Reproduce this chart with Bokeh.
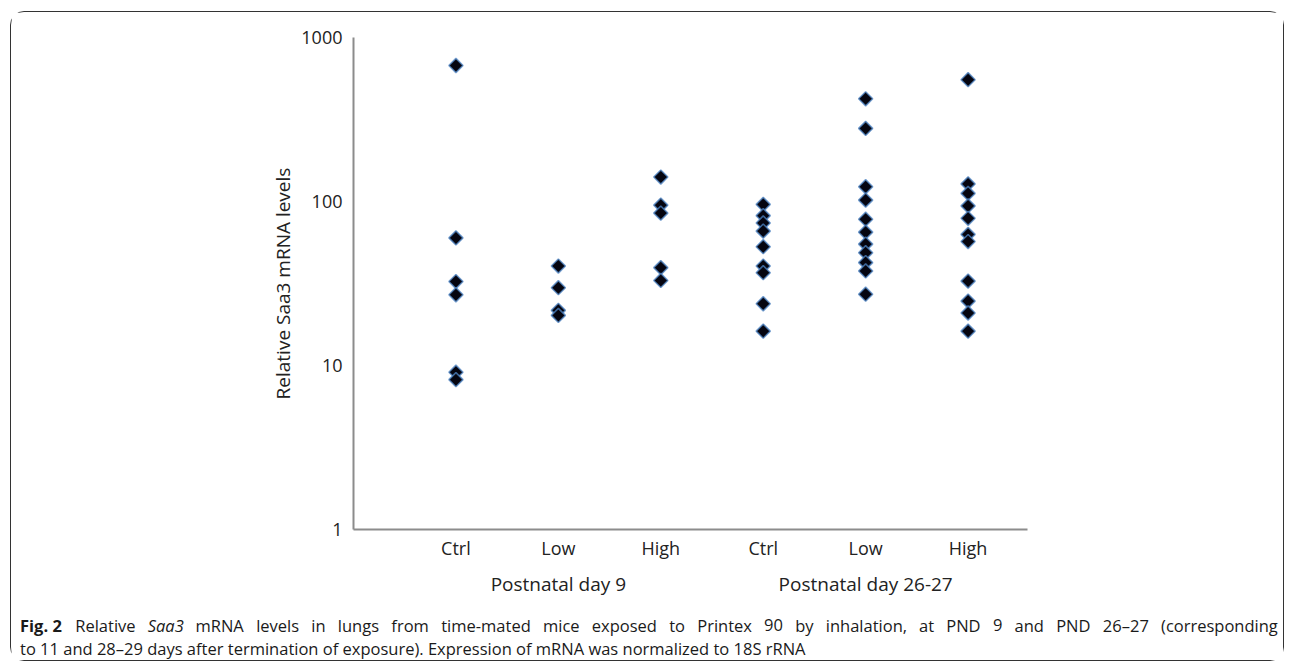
import math
from bokeh.plotting import figure
from bokeh.layouts import column
from bokeh.models import (Range1d, FixedTicker, LinearAxis, Label, ColumnDataSource)
from bokeh.embed import file_html
from bokeh.resources import INLINE

# ---------------- data ----------------
groups = ["Postnatal day 9", "Postnatal day 26-27"]
doses = ["Ctrl", "Low", "High"]
y_ticks = [1, 10, 100, 1000]

pnd9_ctrl = [675, 60, 32.5, 27, 9.1, 8.2]
pnd9_low = [40.4, 29.8, 21.7, 20.2]
pnd9_high = [141, 95, 85, 39.5, 33]
pnd26_ctrl = [96, 82, 74, 66, 53, 40.4, 36.8, 23.8, 16.2]
pnd26_low = [423, 279, 123, 102, 78, 65, 55, 48.7, 42.4, 37.7, 27.2]
pnd26_high = [553, 128, 112, 94, 79, 63, 57, 32.7, 24.7, 20.9, 16.2]

y_label = "Relative Saa3 mRNA levels"
caption_bold = "Fig. 2"
caption_1a = "Relative"
caption_italic = "Saa3"
caption_1b = ("mRNA levels in lungs from time-mated mice exposed to Printex 90 by inhalation, "
              "at PND 9 and PND 26\u201327 (corresponding")
caption_2 = ("to 11 and 28\u201329 days after termination of exposure). "
             "Expression of mRNA was normalized to 18S rRNA")

columns = [pnd9_ctrl, pnd9_low, pnd9_high, pnd26_ctrl, pnd26_low, pnd26_high]
tick_names = doses + doses

xs, ys = [], []
for i, vals in enumerate(columns):
    xs += [i + 1] * len(vals)
    ys += vals
src = ColumnDataSource(dict(x=xs, y=ys))

FONT = "Open Sans"
W = 1272
H_MAIN = 588
H_CAP = 60

p = figure(width=W, height=H_MAIN, y_axis_type="log",
           x_range=Range1d(0, 6.58), y_range=Range1d(1, 1000),
           output_backend="svg", toolbar_location=None,
           min_border_left=342, min_border_right=256,
           min_border_top=25, min_border_bottom=71)
p.frame_align = False
p.grid.visible = False
p.outline_line_color = None
p.background_fill_color = "white"
p.border_fill_color = "white"

p.scatter("x", "y", source=src, marker="square", size=10, angle=math.pi / 4,
          fill_color="#050510", line_color="#4f86c6", line_width=1.6, line_alpha=0.75)

# x axis (categories)
xa = p.xaxis[0]
xa.ticker = FixedTicker(ticks=list(range(1, len(tick_names) + 1)))
xa.major_label_overrides = {i + 1: t for i, t in enumerate(tick_names)}
xa.axis_line_color = "#8c8c8c"
xa.axis_line_width = 2
xa.major_tick_line_color = None
xa.minor_tick_line_color = None
xa.major_tick_out = 0
xa.major_tick_in = 0
xa.minor_tick_out = 0
xa.major_label_standoff = 6
xa.major_label_text_font = FONT
xa.major_label_text_font_size = "18px"
xa.major_label_text_color = "#222222"

# group axis
ga = LinearAxis(ticker=FixedTicker(ticks=[2, 5]),
                major_label_overrides={2: groups[0], 5: groups[1]})
ga.axis_line_color = None
ga.major_tick_line_color = None
ga.minor_tick_line_color = None
ga.major_tick_out = 0
ga.major_tick_in = 0
ga.minor_tick_out = 0
ga.major_label_standoff = 8
ga.major_label_text_font = FONT
ga.major_label_text_font_size = "19px"
ga.major_label_text_color = "#222222"
p.add_layout(ga, "below")

# y axis
ya = p.yaxis[0]
ya.ticker = FixedTicker(ticks=y_ticks)
ya.major_label_overrides = {t: str(t) for t in y_ticks}
ya.axis_line_color = "#8c8c8c"
ya.axis_line_width = 2
ya.major_tick_line_color = None
ya.minor_tick_line_color = None
ya.major_tick_out = 0
ya.major_tick_in = 0
ya.minor_tick_out = 0
ya.major_label_standoff = 11
ya.major_label_text_font = FONT
ya.major_label_text_font_size = "18px"
ya.major_label_text_color = "#222222"
ya.axis_label = y_label
ya.axis_label_text_font = FONT
ya.axis_label_text_font_size = "19px"
ya.axis_label_text_font_style = "normal"
ya.axis_label_text_color = "#222222"
ya.axis_label_standoff = 2

# caption panel
c = figure(width=W, height=H_CAP, x_range=Range1d(0, W), y_range=Range1d(H_CAP, 0),
           output_backend="svg", toolbar_location=None,
           min_border_left=0, min_border_right=0, min_border_top=0, min_border_bottom=0)
c.frame_align = False
c.axis.visible = False
c.grid.visible = False
c.outline_line_color = None
c.background_fill_color = "white"
c.border_fill_color = "white"

OX, OY = 11.5, 12.5 + H_MAIN   # page position of the caption panel's top-left
CAP_SIZE = 16.5

# approximate Open Sans advance widths (units per 2048 em), used to justify line 1
ADV = {' ': 532, 'F': 1057, 'i': 518, 'g': 1122, '.': 545, '2': 1171, 'R': 1260,
       'e': 1149, 'l': 518, 'a': 1139, 't': 723, 'v': 1026, 'S': 1104, '3': 1171,
       'm': 1905, 'N': 1556, 'A': 1296, 's': 977, 'n': 1257, 'u': 1257, 'f': 694,
       'r': 836, 'o': 1237, '-': 659, 'd': 1255, 'c': 975, 'x': 1073, 'p': 1255,
       'P': 1235, '9': 1171, '0': 1171, 'b': 1255, 'y': 1028, 'h': 1257, ',': 500,
       'D': 1493, '6': 1171, '7': 1171, '\u2013': 1024, '(': 606, 'E': 1139}
STYLE_K = {"normal": 1.0, "bold": 1.08, "italic": 0.97}

def text_w(t, style):
    return sum(ADV.get(ch, 1150) for ch in t) / 2048 * CAP_SIZE * STYLE_K[style]

def cap(text, px, py, style="normal"):
    c.add_layout(Label(x=px - OX, y=py - OY, text=text, text_font=FONT,
                       text_font_size=f"{CAP_SIZE}px", text_font_style=style,
                       text_baseline="middle", text_color="#1a1a1a"))

# line 1: justified between x=20 and x=1278
pieces = [(caption_bold, "bold"), (caption_1a, "normal"), (caption_italic, "italic")]
pieces += [(w, "normal") for w in caption_1b.split(" ")]
total = sum(text_w(t, s) for t, s in pieces)
gap = (1278 - 20 - total) / (len(pieces) - 1)
xpos = 20.0
for t, s in pieces:
    cap(t, xpos, 625, s)
    xpos += text_w(t, s) + gap

# line 2: natural (last line of the paragraph)
cap(caption_2, 20, 648)

layout = column(p, c, spacing=0,
                styles={"margin-left": "10px", "margin-top": "11px",
                        "border": "1.5px solid #333333", "border-radius": "14px",
                        "background": "white"})

open("out.html", "w").write(file_html(layout, INLINE))
